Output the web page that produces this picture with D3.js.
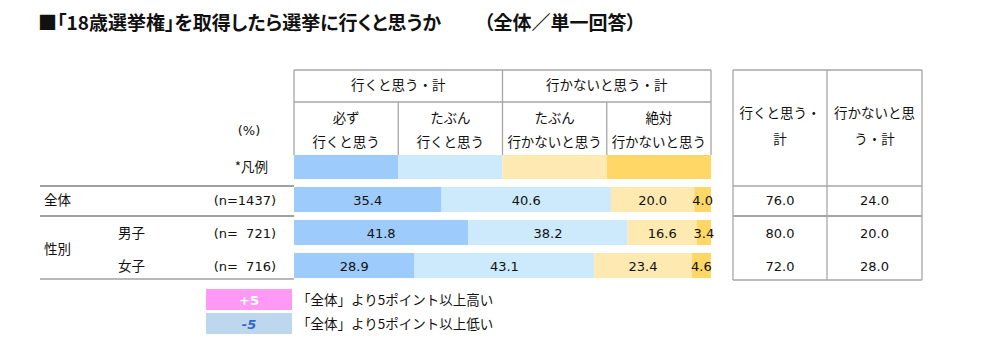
<!DOCTYPE html>
<html>
<head>
<meta charset="utf-8">
<script src="https://cdn.jsdelivr.net/npm/d3@7"></script>
<style>
  body { margin: 0; background: #fff; }
  svg { display: block; }
  .jp { font-family: "Noto Sans CJK JP", sans-serif; font-size: 13.5px; fill: #111; }
  .num { font-family: "DejaVu Sans", sans-serif; font-size: 13px; fill: #111; }
  .title { font-family: "Noto Sans CJK JP", sans-serif; font-size: 19px; font-weight: 700; font-feature-settings: "palt"; fill: #111; }
</style>
</head>
<body>
<div id="chart"></div>
<script>
// Data
const rowLabels = ['全体', '男子', '女子'];
const nLabels = ['(n=1437)', '(n=  721)', '(n=  716)'];
const seriesNames = ['必ず\n行くと思う', 'たぶん\n行くと思う', 'たぶん\n行かないと思う', '絶対\n行かないと思う'];
const groupNames = ['行くと思う・計', '行かないと思う・計'];
const seriesColors = ['#9DCBFC', '#CDEAFD', '#FEE9B0', '#FED766'];
const mustGo = [35.4, 41.8, 28.9];
const maybeGo = [40.6, 38.2, 43.1];
const maybeNot = [20.0, 16.6, 23.4];
const surelyNot = [4.0, 3.4, 4.6];
const totalGo = [76.0, 80.0, 72.0];
const totalNot = [24.0, 20.0, 28.0];
const legendMarks = ['+5', '-5'];
const legendTexts = ['「全体」より5ポイント以上高い', '「全体」より5ポイント以上低い'];

const width = 1000, height = 352;
const lineColor = '#A6A6A6';

const svg = d3.select('#chart').append('svg')
    .attr('width', width)
    .attr('height', height);

// Scales
const x = d3.scaleLinear().domain([0, 100]).range([294, 711]);
const y = d3.scaleBand().domain(rowLabels).range([183, 282]).paddingInner(0.24).paddingOuter(0.12);

// Title
svg.append('text').attr('class', 'title')
    .attr('x', 38).attr('y', 30)
    .text('■「18歳選挙権」を取得したら選挙に行くと思うか');
svg.append('text').attr('class', 'title')
    .attr('x', 484).attr('y', 30)
    .text('（全体／単一回答）');

// Header table
const head = svg.append('g');
const line = (x1, y1, x2, y2, w) => head.append('line')
    .attr('x1', x1).attr('y1', y1).attr('x2', x2).attr('y2', y2)
    .attr('stroke', lineColor).attr('stroke-width', w || 1.3);

line(x(0), 70, x(100), 70);
line(x(0), 102, x(100), 102);
line(x(0), 70, x(0), 155);
line(x(50), 70, x(50), 155);
line(x(100), 70, x(100), 155);
line(x(25), 102, x(25), 155);
line(x(75), 102, x(75), 155);

groupNames.forEach((g, i) => {
    head.append('text').attr('class', 'jp')
        .attr('x', (x(i * 50) + x(i * 50 + 50)) / 2).attr('y', 90)
        .attr('text-anchor', 'middle')
        .text(g);
});

seriesNames.forEach((s, i) => {
    const cx = (x(i * 25) + x(i * 25 + 25)) / 2;
    s.split('\n').forEach((t, j) => {
        head.append('text').attr('class', 'jp')
            .attr('x', cx).attr('y', 123 + j * 24)
            .attr('text-anchor', 'middle')
            .text(t);
    });
    head.append('rect')
        .attr('x', x(i * 25)).attr('y', 155)
        .attr('width', x(25) - x(0)).attr('height', 24)
        .attr('fill', seriesColors[i]);
});

svg.append('text').attr('class', 'num').attr('x', 249).attr('y', 135)
    .attr('text-anchor', 'middle').text('(%)');
svg.append('text').attr('class', 'jp').attr('x', 268).attr('y', 172)
    .attr('text-anchor', 'end').text('*凡例');

// Left labels and row lines
[[186, 2], [216, 2], [279, 1.5]].forEach(([ly, w]) => {
    svg.append('line').attr('x1', 40).attr('x2', 294).attr('y1', ly).attr('y2', ly)
        .attr('stroke', '#A0A0A0').attr('stroke-width', w);
});

rowLabels.forEach((r, i) => {
    const cy = y(r) + y.bandwidth() / 2;
    svg.append('text').attr('class', 'jp')
        .attr('x', i === 0 ? 44 : 118).attr('y', cy + 5)
        .text(r);
    svg.append('text').attr('class', 'num')
        .attr('x', 276).attr('y', cy + 5)
        .attr('text-anchor', 'end')
        .style('white-space', 'pre')
        .text(nLabels[i]);
});
svg.append('text').attr('class', 'jp')
    .attr('x', 44).attr('y', (y('男子') + y('女子') + y.bandwidth()) / 2 + 5)
    .text('性別');

// Stacked bars
const seriesData = [mustGo, maybeGo, maybeNot, surelyNot];
const rows = rowLabels.map((r, i) => {
    let acc = 0;
    return seriesData.map((s, k) => {
        const seg = { row: r, k, start: acc, value: s[i] };
        acc += s[i];
        return seg;
    });
});

const bars = svg.append('g');
rows.forEach(segs => {
    bars.selectAll(null)
        .data(segs)
        .enter()
        .append('rect')
        .attr('x', d => x(d.start))
        .attr('y', d => y(d.row))
        .attr('width', d => x(d.start + d.value) - x(d.start))
        .attr('height', y.bandwidth())
        .attr('fill', d => seriesColors[d.k]);
    bars.selectAll(null)
        .data(segs)
        .enter()
        .append('text')
        .attr('class', 'num')
        .attr('x', d => (x(d.start) + x(d.start + d.value)) / 2)
        .attr('y', d => y(d.row) + y.bandwidth() / 2 + 5)
        .attr('text-anchor', 'middle')
        .text(d => d.value.toFixed(1));
});

// Right summary table
const rt = svg.append('g');
const rline = (x1, y1, x2, y2, w) => rt.append('line')
    .attr('x1', x1).attr('y1', y1).attr('x2', x2).attr('y2', y2)
    .attr('stroke', lineColor).attr('stroke-width', w || 1.3);
const colX = [733, 827, 922];
rline(colX[0], 70, colX[2], 70);
rline(colX[0], 280, colX[2], 280);
colX.forEach(cx => rline(cx, 70, cx, 280));
rline(colX[0], 186, colX[2], 186);
rline(colX[0], 216, colX[2], 216, 2.2);

const rightHead = [['行くと思う・', '計'], ['行かないと思', 'う・計']];
rightHead.forEach((lines, c) => {
    lines.forEach((t, j) => {
        rt.append('text').attr('class', 'jp')
            .attr('x', (colX[c] + colX[c + 1]) / 2).attr('y', 118 + j * 26)
            .attr('text-anchor', 'middle')
            .text(t);
    });
});
[totalGo, totalNot].forEach((vals, c) => {
    vals.forEach((v, i) => {
        rt.append('text').attr('class', 'num')
            .attr('x', (colX[c] + colX[c + 1]) / 2)
            .attr('y', y(rowLabels[i]) + y.bandwidth() / 2 + 5)
            .attr('text-anchor', 'middle')
            .text(v.toFixed(1));
    });
});

// Legend
const lg = svg.append('g');
const markFill = ['#FF99F5', '#BDD7EE'];
const markText = ['#ffffff', '#3366CC'];
legendMarks.forEach((m, i) => {
    const ly = 289 + i * 24;
    lg.append('rect').attr('x', 206).attr('y', ly).attr('width', 86).attr('height', 21)
        .attr('fill', markFill[i]);
    lg.append('text').attr('class', 'num')
        .attr('x', 249).attr('y', ly + 15.5)
        .attr('text-anchor', 'middle')
        .style('font-weight', '700')
        .style('font-style', i === 1 ? 'italic' : 'normal')
        .style('fill', markText[i])
        .text(m);
    lg.append('text').attr('class', 'jp')
        .attr('x', 297).attr('y', ly + 15.5)
        .text(legendTexts[i]);
});
</script>
</body>
</html>
